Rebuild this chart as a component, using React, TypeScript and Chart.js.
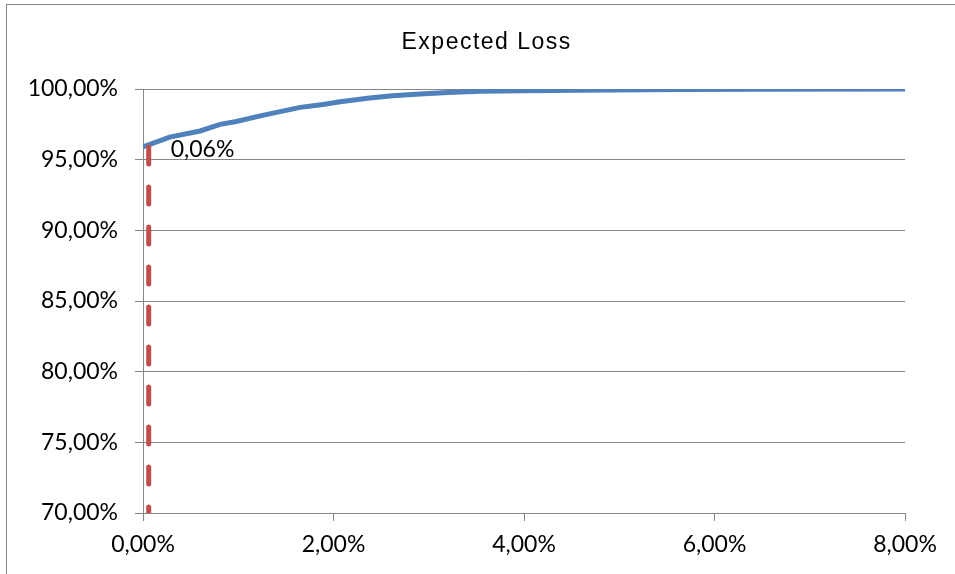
import React, { useEffect, useRef } from "react";
import { Chart, registerables } from "chart.js";

Chart.register(...registerables);

const TITLE = "Expected Loss";
const LOSS_X = [0, 0.28, 0.6, 0.81, 0.98, 1.23, 1.44, 1.65, 1.89, 2.07, 2.38, 2.62, 2.91, 3.2, 3.54, 4.0, 4.59, 5.64, 6.5, 8.0];
const LOSS_Y = [95.9, 96.6, 97.03, 97.5, 97.7, 98.1, 98.4, 98.7, 98.9, 99.1, 99.36, 99.53, 99.65, 99.75, 99.84, 99.88, 99.92, 99.96, 99.98, 100];
const MARKER_X = [0.06, 0.06];
const MARKER_Y = [95.9, 70];
const MARKER_LABEL = "0,06%";
const X_MIN = 0, X_MAX = 8, X_STEP = 2;
const Y_MIN = 70, Y_MAX = 100, Y_STEP = 5;

const GRID = "#868686";
const TICK_FONT = { family: "Lato, 'Open Sans', sans-serif", size: 23 };

const fmt = (v: number) => v.toFixed(2).replace(".", ",") + "%";

const overlayPlugin = {
  id: "overlay",
  afterDraw(chart: any) {
    const ctx = chart.ctx;
    ctx.save();
    // title
    ctx.font = "23px 'Liberation Sans', Arial, sans-serif";
    ctx.fillStyle = "#000";
    (ctx as any).letterSpacing = "1.5px";
    ctx.textAlign = "left";
    ctx.textBaseline = "alphabetic";
    ctx.fillText(TITLE, 401.5, 48.5);
    (ctx as any).letterSpacing = "0px";
    // marker label
    const xs = chart.scales.x, ys = chart.scales.y;
    const px = xs.getPixelForValue(MARKER_X[0]);
    const py = ys.getPixelForValue(MARKER_Y[0]);
    ctx.font = `${TICK_FONT.size}px ${TICK_FONT.family}`;
    ctx.textBaseline = "middle";
    ctx.fillText(MARKER_LABEL, px + 22, py + 3);
    ctx.restore();
  },
};

export default function App() {
  const ref = useRef<HTMLCanvasElement>(null);
  useEffect(() => {
    if (!ref.current) return;
    const chart = new Chart(ref.current, {
      type: "scatter",
      data: {
        datasets: [
          {
            label: "Expected Loss",
            data: LOSS_X.map((x, i) => ({ x, y: LOSS_Y[i] })),
            showLine: true,
            borderColor: "#4F81BD",
            borderWidth: 5,
            pointRadius: 0,
            tension: 0,
            order: 1,
          },
          {
            label: "Marker",
            data: MARKER_X.map((x, i) => ({ x, y: MARKER_Y[i] })),
            showLine: true,
            borderColor: "#C0504D",
            borderWidth: 5,
            borderDash: [17, 23],
            borderCapStyle: "round",
            pointRadius: 0,
            order: 0,
          },
        ],
      },
      options: {
        animation: false,
        responsive: false,
        layout: { padding: { left: 0, right: 50, top: 89, bottom: 0 } },
        plugins: {
          legend: { display: false },
          title: { display: false },
          tooltip: { enabled: false },
        },
        scales: {
          x: {
            type: "linear",
            min: X_MIN,
            max: X_MAX,
            afterFit: (s: any) => { s.height = 61; },
            ticks: { stepSize: X_STEP, color: "#000", font: TICK_FONT, padding: 10, callback: (v: any) => fmt(Number(v)) },
            grid: { drawOnChartArea: false, drawTicks: true, tickLength: 8, color: GRID, lineWidth: 1 },
            border: { display: true, color: GRID, width: 1 },
          },
          y: {
            type: "linear",
            min: Y_MIN,
            max: Y_MAX,
            afterFit: (s: any) => { s.width = 143; },
            ticks: { stepSize: Y_STEP, color: "#000", font: TICK_FONT, padding: 17, callback: (v: any) => fmt(Number(v)) },
            grid: { drawOnChartArea: true, drawTicks: true, tickLength: 8, color: GRID, lineWidth: 1 },
            border: { display: true, color: GRID, width: 1 },
          },
        },
      },
      plugins: [overlayPlugin],
    } as any);
    return () => chart.destroy();
  }, []);
  return (
    <div style={{ position: "absolute", left: 0, top: 0, width: 955, height: 574, background: "#fff", overflow: "hidden" }}>
      <canvas ref={ref} width={955} height={574} style={{ display: "block" }} />
      <div style={{ position: "absolute", left: 6, top: 4, width: 960, height: 600, borderLeft: `1px solid ${GRID}`, borderTop: `1px solid ${GRID}`, pointerEvents: "none" }} />
    </div>
  );
}
